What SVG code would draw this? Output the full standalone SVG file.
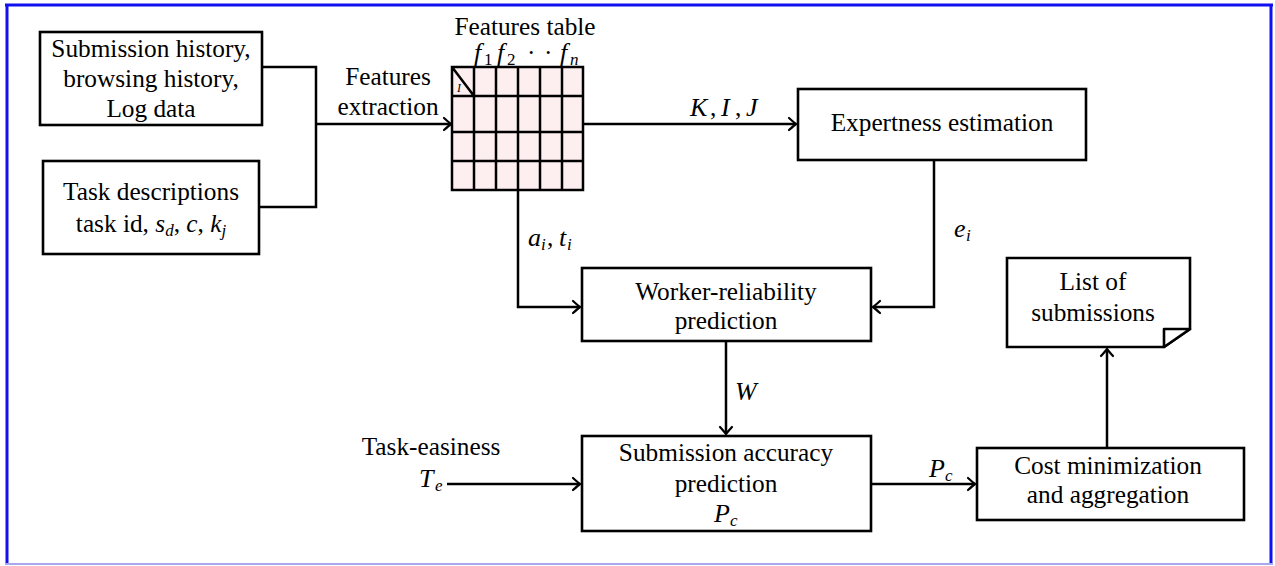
<svg xmlns="http://www.w3.org/2000/svg" width="1275" height="566" viewBox="0 0 1275 566">
<defs>
<style>
.t{font-family:'Liberation Serif','Times New Roman',serif;font-size:25.3px;fill:#000}
.m{font-family:'Liberation Serif','Times New Roman',serif;font-size:26px;font-style:italic;fill:#000}
.s{font-family:'Liberation Serif','Times New Roman',serif;font-size:17px;font-style:italic;fill:#000}
.sn{font-family:'Liberation Serif','Times New Roman',serif;font-size:17px;fill:#000}
.box{fill:#fff;stroke:#000;stroke-width:2.6}
.ln{fill:none;stroke:#000;stroke-width:2.5}
.grid{fill:none;stroke:#000;stroke-width:2.5}
</style>
<marker id="arr" viewBox="-10 -8 12 16" markerWidth="12" markerHeight="16" refX="0" refY="0" orient="auto" markerUnits="userSpaceOnUse">
<path d="M-7,-6 Q-2,-1.5 0,0 Q-2,1.5 -7,6" fill="none" stroke="#000" stroke-width="2.2" stroke-linecap="round"/>
</marker>
</defs>
<rect x="0" y="0" width="1275" height="566" fill="#fff"/>
<g id="frame">
<line x1="5" y1="5" x2="1273" y2="5" stroke="#1010f0" stroke-width="3"/>
<line x1="7" y1="4" x2="7" y2="564" stroke="#1010f0" stroke-width="3"/>
<line x1="1271" y1="4" x2="1271" y2="564" stroke="#1010f0" stroke-width="3"/>
<line x1="5" y1="564" x2="1273" y2="564" stroke="#a8a8f0" stroke-width="2"/>
</g>

<g id="connectors">
<polyline class="ln" points="260,67 316,67 316,207 259,207"/>
<line class="ln" x1="316" y1="124" x2="451" y2="124" marker-end="url(#arr)"/>
<line class="ln" x1="583" y1="124" x2="796" y2="124" marker-end="url(#arr)"/>
<polyline class="ln" points="518,190 518,307 580,307" marker-end="url(#arr)"/>
<polyline class="ln" points="934,160 934,307 873,307" marker-end="url(#arr)"/>
<line class="ln" x1="726" y1="341" x2="726" y2="434" marker-end="url(#arr)"/>
<line class="ln" x1="447" y1="484" x2="580" y2="484" marker-end="url(#arr)"/>
<line class="ln" x1="871" y1="484" x2="975" y2="484" marker-end="url(#arr)"/>
<line class="ln" x1="1107" y1="448" x2="1107" y2="349" marker-end="url(#arr)"/>
<text class="m" x="690" y="116">K</text><text class="t" x="710" y="116">,</text>
<text class="m" x="721" y="116">I</text><text class="t" x="735" y="116">,</text>
<text class="m" x="746" y="116">J</text>
<text class="m" x="528" y="246">a</text><text class="s" x="541" y="250">i</text><text class="t" x="547" y="246">,</text>
<text class="m" x="559" y="246">t</text><text class="s" x="567" y="250">i</text>
<text class="m" x="954" y="237">e</text><text class="s" x="966" y="241">i</text>
<text class="m" x="735" y="400">W</text>
<text class="m" x="929" y="477">P</text><text class="s" x="945" y="481">c</text>
<text class="t" x="431" y="455" text-anchor="middle">Task-easiness</text>
<text class="m" x="419" y="487">T</text><text class="s" x="435" y="491">e</text>
<text class="t" x="388" y="85" text-anchor="middle">Features</text>
<text class="t" x="388" y="115" text-anchor="middle">extraction</text>
</g>

<g id="n-history">
<rect class="box" x="40" y="32" width="222" height="93"/>
<text class="t" x="151" y="57" text-anchor="middle">Submission history,</text>
<text class="t" x="151" y="87" text-anchor="middle">browsing history,</text>
<text class="t" x="151" y="117" text-anchor="middle">Log data</text>
</g>

<g id="n-task">
<rect class="box" x="43" y="161" width="216" height="93"/>
<text class="t" x="151" y="200" text-anchor="middle">Task descriptions</text>
<text class="t" x="151" y="232" text-anchor="middle">task id, <tspan font-style="italic">s</tspan><tspan font-style="italic" font-size="17" dy="4">d</tspan><tspan dy="-4">, </tspan><tspan font-style="italic">c</tspan>, <tspan font-style="italic">k</tspan><tspan font-style="italic" font-size="17" dy="4">j</tspan></text>
</g>

<g id="n-table">
<text class="t" x="525" y="35" text-anchor="middle">Features table</text>
<text class="m" x="474" y="61">f</text><text class="sn" x="484" y="65">1</text>
<text class="m" x="497" y="61">f</text><text class="sn" x="507" y="65">2</text>
<text class="t" x="527" y="61">·</text>
<text class="t" x="544" y="61">·</text>
<text class="m" x="560" y="61">f</text><text class="s" x="570" y="65">n</text>
<rect x="452" y="67" width="131" height="123" fill="#fdeff0"/>
<path class="grid" d="M452,67H583V190H452Z M474,67V190 M496,67V190 M518,67V190 M540,67V190 M562,67V190 M452,96H583 M452,132H583 M452,161H583 M452,67L474,96"/>
<text class="m" x="457" y="92" style="font-size:12px">I</text>
</g>

<g id="n-expert">
<rect class="box" x="798" y="89" width="288" height="71"/>
<text class="t" x="942" y="131" text-anchor="middle">Expertness estimation</text>
</g>

<g id="n-worker">
<rect class="box" x="582" y="268" width="289" height="73"/>
<text class="t" x="726" y="300" text-anchor="middle">Worker-reliability</text>
<text class="t" x="726" y="329" text-anchor="middle">prediction</text>
</g>

<g id="n-accuracy">
<rect class="box" x="582" y="436" width="289" height="95"/>
<text class="t" x="726" y="461" text-anchor="middle">Submission accuracy</text>
<text class="t" x="726" y="492" text-anchor="middle">prediction</text>
<text class="m" x="714" y="522">P</text><text class="s" x="730" y="526">c</text>
</g>

<g id="n-cost">
<rect class="box" x="977" y="448" width="267" height="72"/>
<text class="t" x="1108" y="474" text-anchor="middle">Cost minimization</text>
<text class="t" x="1108" y="503" text-anchor="middle">and aggregation</text>
</g>

<g id="n-list">
<path class="box" d="M1007,258H1190V329L1164,347H1007Z"/>
<path class="box" d="M1190,329H1164V347Z" stroke-linejoin="round"/>
<text class="t" x="1093" y="290" text-anchor="middle">List of</text>
<text class="t" x="1093" y="321" text-anchor="middle">submissions</text>
</g>
</svg>
